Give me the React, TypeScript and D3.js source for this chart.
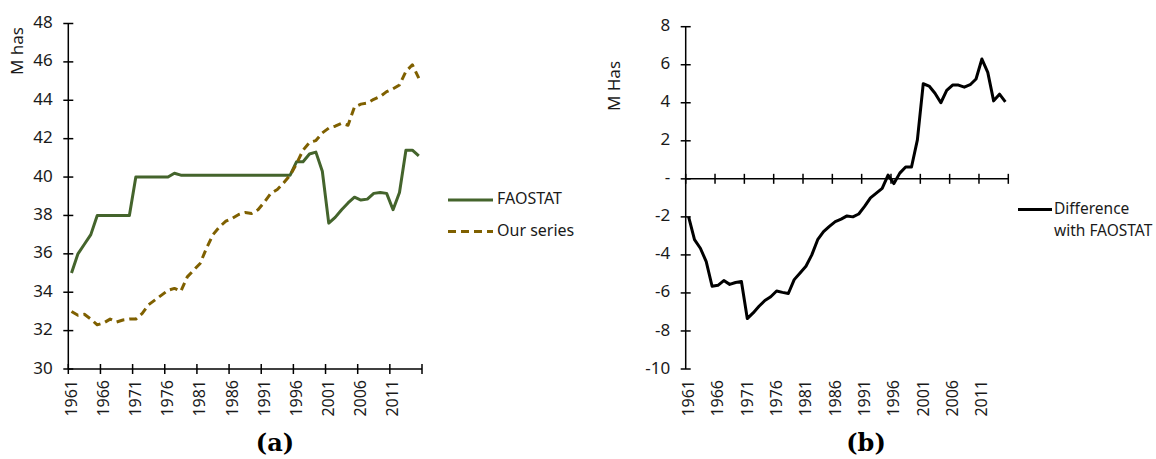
import React from "react";
import * as d3 from "d3";

const years = [
  1961, 1962, 1963, 1964, 1965, 1966, 1967, 1968, 1969, 1970,
  1971, 1972, 1973, 1974, 1975, 1976, 1977, 1978, 1979, 1980,
  1981, 1982, 1983, 1984, 1985, 1986, 1987, 1988, 1989, 1990,
  1991, 1992, 1993, 1994, 1995, 1996, 1997, 1998, 1999, 2000,
  2001, 2002, 2003, 2004, 2005, 2006, 2007, 2008, 2009, 2010,
  2011, 2012, 2013, 2014, 2015,
];

const faostat = [
  35.0, 36.0, 36.5, 37.0, 38.0, 38.0, 38.0, 38.0, 38.0, 38.0,
  40.0, 40.0, 40.0, 40.0, 40.0, 40.0, 40.2, 40.1, 40.1, 40.1,
  40.1, 40.1, 40.1, 40.1, 40.1, 40.1, 40.1, 40.1, 40.1, 40.1,
  40.1, 40.1, 40.1, 40.1, 40.1, 40.8, 40.8, 41.2, 41.3, 40.3,
  37.6, 37.9, 38.3, 38.65, 38.95, 38.8, 38.85, 39.15, 39.2, 39.15,
  38.3, 39.2, 41.4, 41.4, 41.1,
];

const ourSeries = [
  33.0, 32.8, 32.85, 32.6, 32.3, 32.4, 32.6, 32.45, 32.55, 32.6,
  32.6, 32.9, 33.35, 33.6, 33.85, 34.1, 34.2, 34.05, 34.8, 35.15,
  35.5, 36.3, 37.0, 37.4, 37.7, 37.85, 38.05, 38.15, 38.1, 38.3,
  38.7, 39.15, 39.35, 39.7, 40.1, 40.7, 41.4, 41.8, 41.9, 42.3,
  42.55, 42.65, 42.8, 42.7, 43.65, 43.8, 43.85, 44.05, 44.2, 44.45,
  44.6, 44.8, 45.5, 45.85, 45.15,
];

const difference = [
  -2.0, -3.2, -3.65, -4.35, -5.65, -5.6, -5.35, -5.55, -5.45, -5.4,
  -7.35, -7.05, -6.7, -6.4, -6.2, -5.9, -5.97, -6.03, -5.3, -4.95,
  -4.6, -4.0, -3.2, -2.78, -2.5, -2.25, -2.12, -1.95, -2.0, -1.85,
  -1.45, -1.0, -0.75, -0.5, 0.2, -0.25, 0.3, 0.62, 0.62, 2.05,
  5.0, 4.88, 4.5, 4.0, 4.65, 4.93, 4.93, 4.82, 4.95, 5.25,
  6.3, 5.6, 4.1, 4.45, 4.05,
];

const xTickLabels = [1961, 1966, 1971, 1976, 1981, 1986, 1991, 1996, 2001, 2006, 2011];
const leftYTicks = [30, 32, 34, 36, 38, 40, 42, 44, 46, 48];
const rightYTicks = [-10, -8, -6, -4, -2, 0, 2, 4, 6, 8];

const FONT = "'Noto Sans', 'Open Sans', sans-serif";
const GREEN = "#44642c";
const GOLD = "#7f6000";
const TEXT = "#1a1a1a";

function XAxis({ x, y, labelTop }: { x: d3.ScaleBand<number>; y: number; labelTop: number }) {
  const bw = x.bandwidth();
  const [r0, r1] = x.range();
  const boundaries = [...xTickLabels.map((yr) => x(yr) as number), r1];
  return (
    <g>
      <line x1={r0} x2={r1} y1={y} y2={y} stroke="#000" strokeWidth={1.5} />
      {boundaries.map((bx, i) => (
        <line key={i} x1={bx} x2={bx} y1={y - 5} y2={y + 5} stroke="#000" strokeWidth={1.5} />
      ))}
      {xTickLabels.map((yr) => {
        const cx = (x(yr) as number) + bw / 2;
        return (
          <text
            key={yr}
            transform={`translate(${cx + 1},${labelTop}) rotate(-90)`}
            textAnchor="end"
            dominantBaseline="middle"
            fontSize={16}
            fontFamily={FONT}
            fill={TEXT}
          >
            {yr}
          </text>
        );
      })}
    </g>
  );
}

function YAxis({
  y,
  x0,
  ticks,
  fmt,
}: {
  y: d3.ScaleLinear<number, number>;
  x0: number;
  ticks: number[];
  fmt: (v: number) => string;
}) {
  const [b, t] = y.range();
  return (
    <g>
      <line x1={x0} x2={x0} y1={b} y2={t} stroke="#000" strokeWidth={1.5} />
      {ticks.map((v) => (
        <g key={v}>
          <line x1={x0 - 5} x2={x0 + 5} y1={y(v)} y2={y(v)} stroke="#000" strokeWidth={1.5} />
          <text
            x={x0 - 15.5}
            y={y(v)}
            textAnchor="end"
            dominantBaseline="middle"
            fontSize={17}
            fontFamily={FONT}
            fill={TEXT}
          >
            {fmt(v)}
          </text>
        </g>
      ))}
    </g>
  );
}

export default function App() {
  // Left chart
  const xL = d3.scaleBand<number>().domain(years).range([68.3, 422]).padding(0);
  const yL = d3.scaleLinear().domain([30, 48]).range([369, 23.5]);
  const bwL = xL.bandwidth();
  const lineL = d3
    .line<number>()
    .x((_, i) => (xL(years[i]) as number) + bwL / 2)
    .y((d) => yL(d));

  // Right chart
  const xR = d3.scaleBand<number>().domain(years).range([685.7, 1008.3]).padding(0);
  const yR = d3.scaleLinear().domain([-10, 8]).range([369, 26.7]);
  const bwR = xR.bandwidth();
  const lineR = d3
    .line<number>()
    .x((_, i) => (xR(years[i]) as number) + bwR / 2)
    .y((d) => yR(d));

  return (
    <svg
      width={1156}
      height={459}
      style={{ position: "absolute", left: 0, top: 0, background: "#fff" }}
    >
      <rect width={1156} height={459} fill="#fff" />

      {/* Left chart */}
      <YAxis y={yL} x0={68.3} ticks={leftYTicks} fmt={(v) => String(v)} />
      <XAxis x={xL} y={369} labelTop={380} />
      <text
        transform="translate(18,51) rotate(-90)"
        textAnchor="middle"
        dominantBaseline="middle"
        fontSize={17}
        fontFamily={FONT}
        fill={TEXT}
      >
        M has
      </text>
      <path d={lineL(faostat) ?? ""} fill="none" stroke={GREEN} strokeWidth={3} strokeLinejoin="round" />
      <path
        d={lineL(ourSeries) ?? ""}
        fill="none"
        stroke={GOLD}
        strokeWidth={3}
        strokeDasharray="8 5"
        strokeLinejoin="round"
      />
      {/* Left legend */}
      <line x1={448} x2={493} y1={200} y2={200} stroke={GREEN} strokeWidth={3} />
      <text x={497} y={200} dominantBaseline="middle" fontSize={16} fontFamily={FONT} fill={TEXT}>
        FAOSTAT
      </text>
      <line x1={448} x2={493} y1={231.5} y2={231.5} stroke={GOLD} strokeWidth={3} strokeDasharray="8 5" />
      <text x={497} y={231.5} dominantBaseline="middle" fontSize={16} fontFamily={FONT} fill={TEXT}>
        Our series
      </text>
      <text
        x={275}
        y={451}
        textAnchor="middle"
        fontSize={24}
        fontWeight="bold"
        fontFamily="'DejaVu Serif', 'Liberation Serif', serif"
        fill="#000"
      >
        (a)
      </text>

      {/* Right chart */}
      <YAxis y={yR} x0={685.7} ticks={rightYTicks} fmt={(v) => (v === 0 ? "-" : String(v))} />
      <XAxis x={xR} y={yR(0)} labelTop={380} />
      <text
        transform="translate(615,86) rotate(-90)"
        textAnchor="middle"
        dominantBaseline="middle"
        fontSize={17}
        fontFamily={FONT}
        fill={TEXT}
      >
        M Has
      </text>
      <path d={lineR(difference) ?? ""} fill="none" stroke="#000" strokeWidth={3} strokeLinejoin="round" />
      {/* Right legend */}
      <line x1={1018} x2={1052} y1={209.5} y2={209.5} stroke="#000" strokeWidth={3} />
      <text x={1054} y={210} dominantBaseline="middle" fontSize={15.5} fontFamily={FONT} fill={TEXT}>
        Difference
      </text>
      <text x={1054} y={232} dominantBaseline="middle" fontSize={15.5} fontFamily={FONT} fill={TEXT}>
        with FAOSTAT
      </text>
      <text
        x={866}
        y={451}
        textAnchor="middle"
        fontSize={24}
        fontWeight="bold"
        fontFamily="'DejaVu Serif', 'Liberation Serif', serif"
        fill="#000"
      >
        (b)
      </text>
    </svg>
  );
}
